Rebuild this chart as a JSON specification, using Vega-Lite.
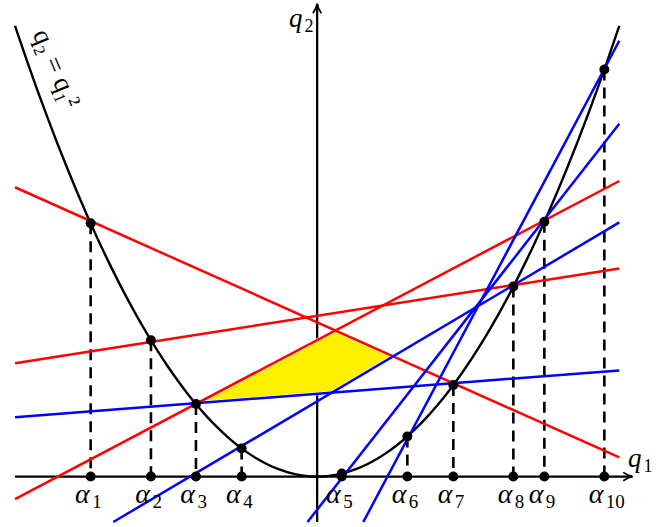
{
  "$schema": "https://vega.github.io/schema/vega-lite/v6.json",
  "width": 665,
  "height": 527,
  "autosize": {"type": "fit", "contains": "padding"},
  "padding": 0,
  "background": "white",
  "config": {"view": {"stroke": null}},
  "datasets": {
    "parabola": [
      {"q1": -3.0215, "q2": 9.1295}, {"q1": -2.9, "q2": 8.41}, {"q1": -2.8, "q2": 7.84}, {"q1": -2.7, "q2": 7.29},
      {"q1": -2.6, "q2": 6.76}, {"q1": -2.5, "q2": 6.25}, {"q1": -2.4, "q2": 5.76}, {"q1": -2.3, "q2": 5.29},
      {"q1": -2.2, "q2": 4.84}, {"q1": -2.1, "q2": 4.41}, {"q1": -2.0, "q2": 4.0}, {"q1": -1.9, "q2": 3.61},
      {"q1": -1.8, "q2": 3.24}, {"q1": -1.7, "q2": 2.89}, {"q1": -1.6, "q2": 2.56}, {"q1": -1.5, "q2": 2.25},
      {"q1": -1.4, "q2": 1.96}, {"q1": -1.3, "q2": 1.69}, {"q1": -1.2, "q2": 1.44}, {"q1": -1.1, "q2": 1.21},
      {"q1": -1.0, "q2": 1.0}, {"q1": -0.9, "q2": 0.81}, {"q1": -0.8, "q2": 0.64}, {"q1": -0.7, "q2": 0.49},
      {"q1": -0.6, "q2": 0.36}, {"q1": -0.5, "q2": 0.25}, {"q1": -0.4, "q2": 0.16}, {"q1": -0.3, "q2": 0.09},
      {"q1": -0.2, "q2": 0.04}, {"q1": -0.1, "q2": 0.01}, {"q1": 0.0, "q2": 0.0}, {"q1": 0.1, "q2": 0.01},
      {"q1": 0.2, "q2": 0.04}, {"q1": 0.3, "q2": 0.09}, {"q1": 0.4, "q2": 0.16}, {"q1": 0.5, "q2": 0.25},
      {"q1": 0.6, "q2": 0.36}, {"q1": 0.7, "q2": 0.49}, {"q1": 0.8, "q2": 0.64}, {"q1": 0.9, "q2": 0.81},
      {"q1": 1.0, "q2": 1.0}, {"q1": 1.1, "q2": 1.21}, {"q1": 1.2, "q2": 1.44}, {"q1": 1.3, "q2": 1.69},
      {"q1": 1.4, "q2": 1.96}, {"q1": 1.5, "q2": 2.25}, {"q1": 1.6, "q2": 2.56}, {"q1": 1.7, "q2": 2.89},
      {"q1": 1.8, "q2": 3.24}, {"q1": 1.9, "q2": 3.61}, {"q1": 2.0, "q2": 4.0}, {"q1": 2.1, "q2": 4.41},
      {"q1": 2.2, "q2": 4.84}, {"q1": 2.3, "q2": 5.29}, {"q1": 2.4, "q2": 5.76}, {"q1": 2.5, "q2": 6.25},
      {"q1": 2.6, "q2": 6.76}, {"q1": 2.7, "q2": 7.29}, {"q1": 2.8, "q2": 7.84}, {"q1": 2.9, "q2": 8.41},
      {"q1": 3.0215, "q2": 9.1295}
    ],
    "alphas": [
      {"sub": "1", "q1": -2.265, "q2": 5.130},
      {"sub": "2", "q1": -1.662, "q2": 2.762},
      {"sub": "3", "q1": -1.212, "q2": 1.469},
      {"sub": "4", "q1": -0.755, "q2": 0.570},
      {"sub": "5", "q1": 0.246, "q2": 0.0605},
      {"sub": "6", "q1": 0.902, "q2": 0.8136},
      {"sub": "7", "q1": 1.362, "q2": 1.855},
      {"sub": "8", "q1": 1.962, "q2": 3.849},
      {"sub": "9", "q1": 2.272, "q2": 5.162},
      {"sub": "10", "q1": 2.872, "q2": 8.248}
    ],
    "lines": [
      {"line": "a1a7", "set": "A", "q1": -3.0215, "q2": 5.861},
      {"line": "a1a7", "set": "A", "q1": 3.0215, "q2": 0.389},
      {"line": "a2a8", "set": "A", "q1": -3.0215, "q2": 2.296},
      {"line": "a2a8", "set": "A", "q1": 3.0215, "q2": 4.216},
      {"line": "a3a9", "set": "A", "q1": -3.0215, "q2": -0.457},
      {"line": "a3a9", "set": "A", "q1": 3.0215, "q2": 5.988},
      {"line": "a3a7", "set": "B", "q1": -3.0215, "q2": 1.204},
      {"line": "a3a7", "set": "B", "q1": 3.0215, "q2": 2.151},
      {"line": "a4a8", "set": "B", "q1": -2.0385, "q2": -0.92},
      {"line": "a4a8", "set": "B", "q1": 3.0215, "q2": 5.148},
      {"line": "a5a9", "set": "B", "q1": -0.0965, "q2": -0.92},
      {"line": "a5a9", "set": "B", "q1": 3.0215, "q2": 7.146},
      {"line": "a6a10", "set": "B", "q1": 0.4615, "q2": -0.92},
      {"line": "a6a10", "set": "B", "q1": 3.0215, "q2": 8.828}
    ],
    "region": [
      {"q1": -1.196, "q2": 1.490, "q2b": 1.490},
      {"q1": 0.147, "q2": 2.9225, "q2b": 1.7005},
      {"q1": 0.182, "q2": 2.960, "q2b": 1.7424},
      {"q1": 0.7607, "q2": 2.4362, "q2b": 2.4362}
    ],
    "axes": [
      {"q1": -3.0215, "q2": 0, "q1e": 3.15, "q2e": 0},
      {"q1": 0, "q2": -0.92, "q1e": 0, "q2e": 9.57}
    ],
    "axislabels": [
      {"q1": -0.1375, "q2": 9.098, "sub": "2"},
      {"q1": 3.2535, "q2": 0.187, "sub": "1"}
    ]
  },
  "encoding": {
    "x": {"field": "q1", "type": "quantitative", "scale": {"domain": [-3.1715, 3.4785], "nice": false, "zero": false}, "axis": null},
    "y": {"field": "q2", "type": "quantitative", "scale": {"domain": [-0.981, 9.634], "nice": false, "zero": false}, "axis": null}
  },
  "layer": [
    {
      "data": {"name": "axes"},
      "mark": {"type": "rule", "color": "black", "strokeWidth": 2.3},
      "encoding": {
        "x2": {"field": "q1e"},
        "y2": {"field": "q2e"}
      }
    },
    {
      "data": {"name": "alphas"},
      "mark": {"type": "rule", "color": "black", "strokeWidth": 2.6, "strokeDash": [11, 7]},
      "encoding": {
        "y2": {"datum": 0}
      }
    },
    {
      "data": {"name": "parabola"},
      "mark": {"type": "line", "color": "black", "strokeWidth": 2.4, "interpolate": "monotone"},
      "encoding": {}
    },
    {
      "data": {"name": "region"},
      "mark": {"type": "area", "fill": "#fff000", "stroke": "white", "strokeWidth": 3.5, "fillOpacity": 1},
      "encoding": {
        "y2": {"field": "q2b"}
      }
    },
    {
      "data": {"name": "lines"},
      "mark": {"type": "line", "strokeWidth": 2.5},
      "encoding": {
        "color": {"field": "set", "type": "nominal", "scale": {"domain": ["A", "B"], "range": ["#ff0000", "#0000ff"]}, "legend": null},
        "detail": {"field": "line"}
      }
    },
    {
      "data": {"name": "alphas"},
      "mark": {"type": "point", "shape": "circle", "filled": true, "color": "black", "size": 100, "opacity": 1},
      "encoding": {}
    },
    {
      "data": {"name": "alphas"},
      "mark": {"type": "point", "shape": "circle", "filled": true, "color": "black", "size": 100, "opacity": 1},
      "encoding": {"y": {"datum": 0, "type": "quantitative"}}
    },
    {
      "data": {"values": [{"q1": 3.1555, "q2": 0}]},
      "mark": {"type": "point", "shape": "M -0.95 -0.42 Q -0.45 -0.06 0 0 Q -0.45 0.06 -0.95 0.42", "filled": false, "stroke": "black", "strokeWidth": 1.8, "size": 400, "opacity": 1},
      "encoding": {}
    },
    {
      "data": {"values": [{"q1": 0, "q2": 9.579}]},
      "mark": {"type": "point", "shape": "M -0.95 -0.42 Q -0.45 -0.06 0 0 Q -0.45 0.06 -0.95 0.42", "angle": 270, "filled": false, "stroke": "black", "strokeWidth": 1.8, "size": 400, "opacity": 1},
      "encoding": {}
    },
    {
      "data": {"name": "alphas"},
      "mark": {"type": "text", "text": "α", "align": "right", "baseline": "alphabetic", "dx": -1, "font": "Liberation Serif", "fontStyle": "italic", "fontSize": 28, "color": "black"},
      "encoding": {"y": {"datum": -0.538, "type": "quantitative"}}
    },
    {
      "data": {"name": "alphas"},
      "mark": {"type": "text", "align": "left", "baseline": "alphabetic", "dx": 1.5, "dy": 4.5, "font": "Liberation Serif", "fontSize": 19, "color": "black"},
      "encoding": {"y": {"datum": -0.538, "type": "quantitative"}, "text": {"field": "sub"}}
    },
    {
      "data": {"name": "axislabels"},
      "mark": {"type": "text", "text": "q", "align": "right", "baseline": "alphabetic", "dx": -1, "font": "Liberation Serif", "fontStyle": "italic", "fontSize": 27, "color": "black"},
      "encoding": {}
    },
    {
      "data": {"name": "axislabels"},
      "mark": {"type": "text", "align": "left", "baseline": "alphabetic", "dx": 1, "dy": 4.5, "font": "Liberation Serif", "fontSize": 18, "color": "black"},
      "encoding": {"text": {"field": "sub"}}
    },
    {
      "data": {"values": [{"q1": -2.6115, "q2": 8.264, "label": "q₂ = q₁²"}]},
      "mark": {"type": "text", "align": "center", "baseline": "middle", "angle": 67, "font": "Liberation Serif", "fontSize": 27, "color": "black"},
      "encoding": {"text": {"field": "label"}}
    }
  ]
}
